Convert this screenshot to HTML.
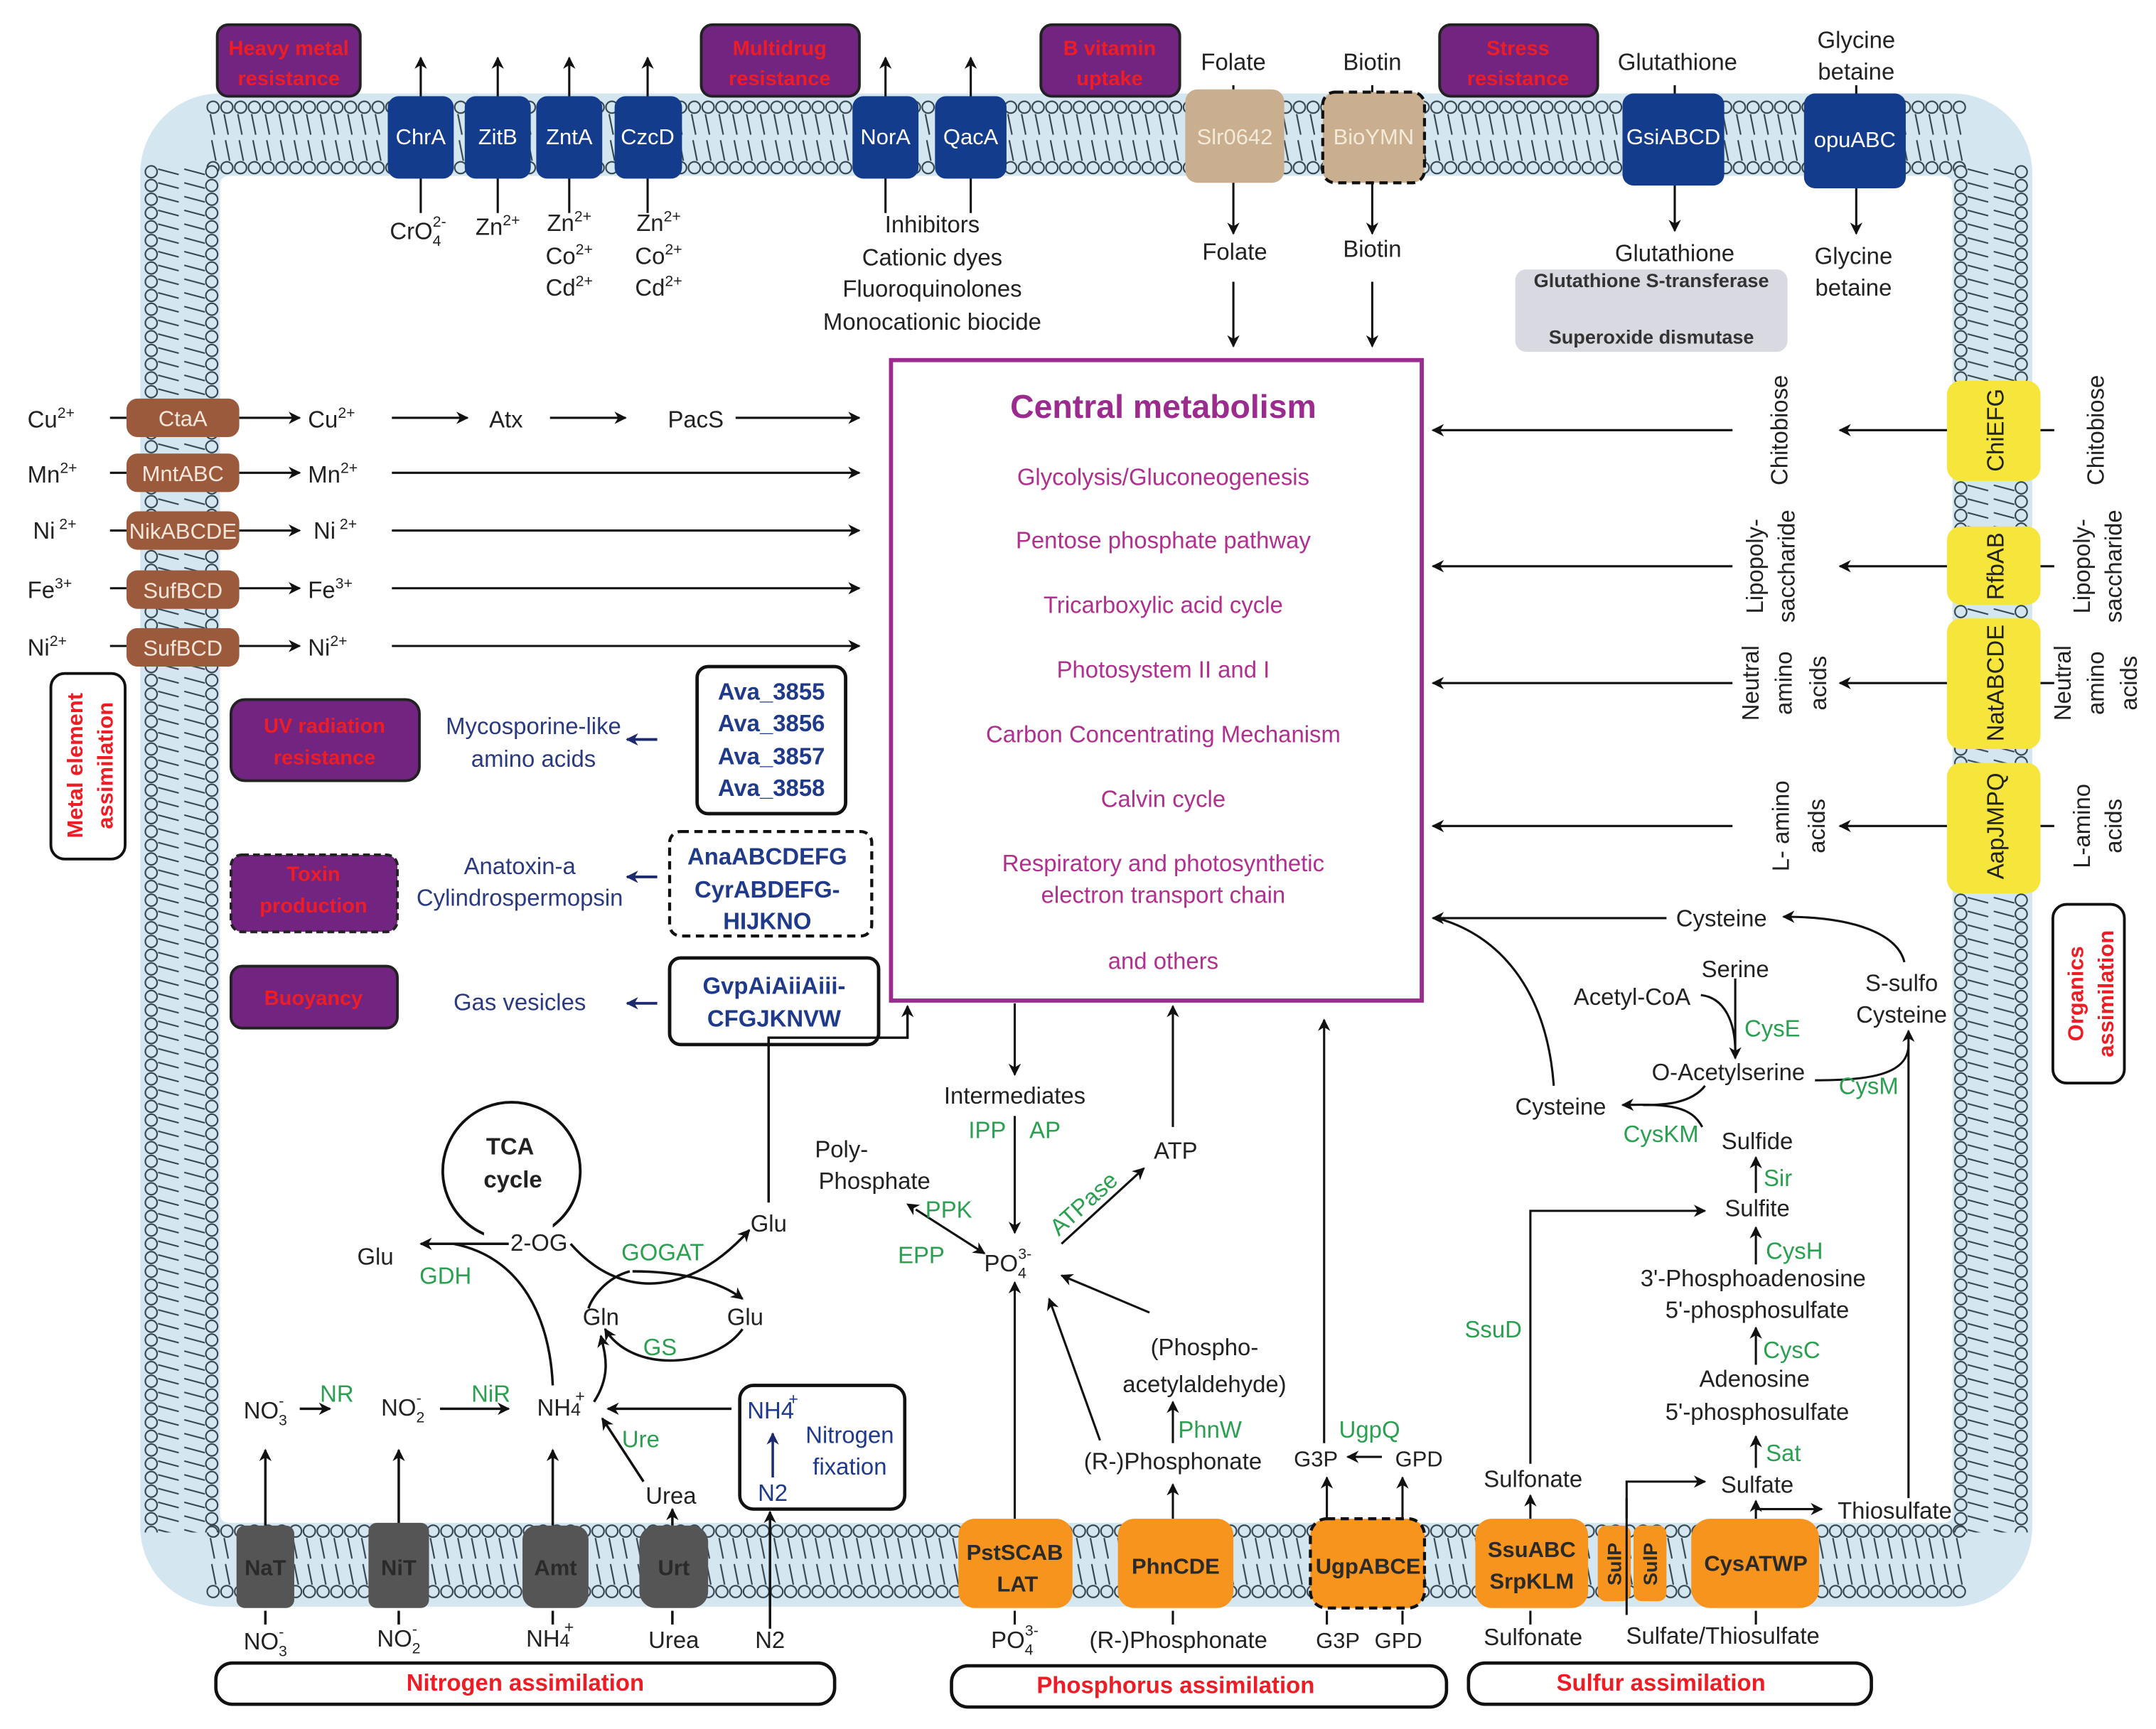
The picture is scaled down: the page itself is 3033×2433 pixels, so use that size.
<!DOCTYPE html>
<html><head><meta charset="utf-8"><style>
html,body{margin:0;padding:0;background:#fff;}
svg{display:block;}
text{font-family:"Liberation Sans",Arial,sans-serif;}
</style></head><body>
<svg width="3033" height="2433" viewBox="0 0 1568 1258" preserveAspectRatio="none" xmlns="http://www.w3.org/2000/svg">
<defs>
<marker id="a" viewBox="0 0 10 10" refX="9" refY="5" markerWidth="9" markerHeight="9" markerUnits="userSpaceOnUse" orient="auto"><path d="M0,0L10,5L0,10L3,5z" fill="#111"/></marker>
<marker id="as" viewBox="0 0 10 10" refX="1" refY="5" markerWidth="9" markerHeight="9" markerUnits="userSpaceOnUse" orient="auto-start-reverse"><path d="M0,0L10,5L0,10L3,5z" fill="#111"/></marker>
<marker id="ab" viewBox="0 0 10 10" refX="9" refY="5" markerWidth="9" markerHeight="9" markerUnits="userSpaceOnUse" orient="auto"><path d="M0,0L10,5L0,10L3,5z" fill="#1c2a6e"/></marker>
<pattern id="pt" x="0" y="72" width="10" height="56" patternUnits="userSpaceOnUse">
<circle cx="5" cy="6" r="4.3" fill="#d4e6f0" stroke="#34444f" stroke-width="1.1"/>
<circle cx="5" cy="50" r="4.3" fill="#d4e6f0" stroke="#34444f" stroke-width="1.1"/>
<path d="M3,11L6,26M4,30L7,45" stroke="#34444f" stroke-width="1.1"/></pattern>
<pattern id="pb" x="0" y="1108" width="10" height="56" patternUnits="userSpaceOnUse">
<circle cx="5" cy="6" r="4.3" fill="#d4e6f0" stroke="#34444f" stroke-width="1.1"/>
<circle cx="5" cy="50" r="4.3" fill="#d4e6f0" stroke="#34444f" stroke-width="1.1"/>
<path d="M3,11L6,26M4,30L7,45" stroke="#34444f" stroke-width="1.1"/></pattern>
<pattern id="pl" x="104" y="0" width="56" height="10" patternUnits="userSpaceOnUse">
<circle cx="6" cy="5" r="4.3" fill="#d4e6f0" stroke="#34444f" stroke-width="1.1"/>
<circle cx="50" cy="5" r="4.3" fill="#d4e6f0" stroke="#34444f" stroke-width="1.1"/>
<path d="M11,3L26,7M30,3L45,7" stroke="#34444f" stroke-width="1.1"/></pattern>
<pattern id="pr" x="1420" y="0" width="56" height="10" patternUnits="userSpaceOnUse">
<circle cx="6" cy="5" r="4.3" fill="#d4e6f0" stroke="#34444f" stroke-width="1.1"/>
<circle cx="50" cy="5" r="4.3" fill="#d4e6f0" stroke="#34444f" stroke-width="1.1"/>
<path d="M11,3L26,7M30,3L45,7" stroke="#34444f" stroke-width="1.1"/></pattern>
</defs>

<!-- membrane -->
<rect x="102" y="68" width="1376" height="1101" rx="58" fill="#d4e6f0"/>
<rect x="150" y="72" width="1280" height="56" fill="url(#pt)"/>
<rect x="150" y="1108" width="1280" height="56" fill="url(#pb)"/>
<rect x="104" y="120" width="56" height="995" fill="url(#pl)"/>
<rect x="1420" y="120" width="56" height="995" fill="url(#pr)"/>
<rect x="160" y="128" width="1260" height="980" rx="6" fill="#fff"/>

<g font-size="17" fill="#222" text-anchor="middle">
<!-- top purple boxes -->
<g stroke="#222" stroke-width="2" fill="#722580">
<rect x="158" y="18" width="104" height="52" rx="8"/>
<rect x="510" y="18" width="115" height="52" rx="8"/>
<rect x="757" y="18" width="101" height="52" rx="8"/>
<rect x="1047" y="18" width="115" height="52" rx="8"/>
</g>
<g fill="#ee1c24" font-weight="bold" font-size="15">
<text x="210" y="40">Heavy metal</text><text x="210" y="62">resistance</text>
<text x="567" y="40">Multidrug</text><text x="567" y="62">resistance</text>
<text x="807" y="40">B vitamin</text><text x="807" y="62">uptake</text>
<text x="1104" y="40">Stress</text><text x="1104" y="62">resistance</text>
</g>
<!-- top arrows -->
<g stroke="#111" stroke-width="1.6" fill="none">
<path d="M306,155V42" marker-end="url(#a)"/><path d="M362,155V42" marker-end="url(#a)"/>
<path d="M414,155V42" marker-end="url(#a)"/><path d="M471,155V42" marker-end="url(#a)"/>
<path d="M644,155V42" marker-end="url(#a)"/><path d="M706,155V42" marker-end="url(#a)"/>
<path d="M897,62V170" marker-end="url(#a)"/><path d="M897,205V252" marker-end="url(#a)"/>
<path d="M998,62V170" marker-end="url(#a)"/><path d="M998,205V252" marker-end="url(#a)"/>
<path d="M1218,62V168" marker-end="url(#a)"/><path d="M1350,62V170" marker-end="url(#a)"/>
</g>
<!-- blue transporters -->
<g fill="#143c8c">
<rect x="282" y="70" width="48" height="60" rx="8"/><rect x="338" y="70" width="48" height="60" rx="8"/>
<rect x="390" y="70" width="48" height="60" rx="8"/><rect x="447" y="70" width="49" height="60" rx="8"/>
<rect x="620" y="70" width="48" height="60" rx="8"/><rect x="680" y="70" width="52" height="60" rx="8"/>
<rect x="1180" y="68" width="74" height="67" rx="8"/><rect x="1312" y="68" width="74" height="69" rx="8"/>
</g>
<rect x="862" y="65" width="72" height="68" rx="9" fill="#c9ae8f"/>
<rect x="962" y="67" width="74" height="66" rx="9" fill="#c9ae8f" stroke="#111" stroke-width="2.2" stroke-dasharray="6,4"/>
<g fill="#fff" font-size="16">
<text x="306" y="105">ChrA</text><text x="362" y="105">ZitB</text><text x="414" y="105">ZntA</text><text x="471" y="105">CzcD</text>
<text x="644" y="105">NorA</text><text x="706" y="105">QacA</text>
<text x="898" y="105" fill="#f4ead8">Slr0642</text><text x="999" y="105" fill="#f4ead8">BioYMN</text>
<text x="1217" y="105">GsiABCD</text><text x="1349" y="107">opuABC</text>
</g>
<!-- top labels -->
<text x="304" y="174">CrO<tspan font-size="11" dy="5">4</tspan><tspan font-size="11" dx="-6" dy="-14">2-</tspan></text>
<text x="362" y="171">Zn<tspan font-size="11" dy="-7">2+</tspan></text>
<text x="414" y="168">Zn<tspan font-size="11" dy="-7">2+</tspan></text>
<text x="414" y="192">Co<tspan font-size="11" dy="-7">2+</tspan></text>
<text x="414" y="215">Cd<tspan font-size="11" dy="-7">2+</tspan></text>
<text x="479" y="168">Zn<tspan font-size="11" dy="-7">2+</tspan></text>
<text x="479" y="192">Co<tspan font-size="11" dy="-7">2+</tspan></text>
<text x="479" y="215">Cd<tspan font-size="11" dy="-7">2+</tspan></text>
<text x="678" y="169">Inhibitors</text><text x="678" y="193">Cationic dyes</text>
<text x="678" y="216">Fluoroquinolones</text><text x="678" y="240">Monocationic biocide</text>
<text x="897" y="51">Folate</text><text x="898" y="189">Folate</text>
<text x="998" y="51">Biotin</text><text x="998" y="187">Biotin</text>
<text x="1220" y="51">Glutathione</text><text x="1218" y="190">Glutathione</text>
<text x="1350" y="35">Glycine</text><text x="1350" y="58">betaine</text>
<text x="1348" y="192">Glycine</text><text x="1348" y="215">betaine</text>
<rect x="1102" y="196" width="198" height="60" rx="8" fill="#d9d9e2"/>
<text x="1201" y="209" font-size="14" font-weight="bold" fill="#333">Glutathione S-transferase</text>
<text x="1201" y="250" font-size="14" font-weight="bold" fill="#333">Superoxide dismutase</text>

<!-- metal rows -->
<g stroke="#111" stroke-width="1.6" fill="none">
<path d="M80,304H92M174,304H218" marker-end="url(#a)"/>
<path d="M285,304H340" marker-end="url(#a)"/><path d="M400,304H455" marker-end="url(#a)"/><path d="M535,304H625" marker-end="url(#a)"/>
<path d="M174,344H218" marker-end="url(#a)"/><path d="M285,344H625" marker-end="url(#a)"/>
<path d="M174,386H218" marker-end="url(#a)"/><path d="M285,386H625" marker-end="url(#a)"/>
<path d="M174,428H218" marker-end="url(#a)"/><path d="M285,428H625" marker-end="url(#a)"/>
<path d="M174,470H218" marker-end="url(#a)"/><path d="M285,470H625" marker-end="url(#a)"/>
<path d="M80,344H92M80,386H92M80,428H92M80,470H92"/>
</g>
<g fill="#9c5a3c">
<rect x="92" y="290" width="82" height="28" rx="8"/><rect x="92" y="330" width="82" height="28" rx="8"/>
<rect x="92" y="372" width="82" height="28" rx="8"/><rect x="92" y="415" width="82" height="28" rx="8"/>
<rect x="92" y="457" width="82" height="28" rx="8"/>
</g>
<g fill="#f4e6da" font-size="16">
<text x="133" y="310">CtaA</text><text x="133" y="350">MntABC</text><text x="133" y="392">NikABCDE</text>
<text x="133" y="435">SufBCD</text><text x="133" y="477">SufBCD</text>
</g>
<g text-anchor="start">
<text x="20" y="311">Cu<tspan font-size="11" dy="-7">2+</tspan></text>
<text x="20" y="351">Mn<tspan font-size="11" dy="-7">2+</tspan></text>
<text x="24" y="392">Ni<tspan font-size="11" dx="3" dy="-7">2+</tspan></text>
<text x="20" y="435">Fe<tspan font-size="11" dy="-7">3+</tspan></text>
<text x="20" y="477">Ni<tspan font-size="11" dy="-7">2+</tspan></text>
<text x="224" y="311">Cu<tspan font-size="11" dy="-7">2+</tspan></text>
<text x="224" y="351">Mn<tspan font-size="11" dy="-7">2+</tspan></text>
<text x="228" y="392">Ni<tspan font-size="11" dx="3" dy="-7">2+</tspan></text>
<text x="224" y="435">Fe<tspan font-size="11" dy="-7">3+</tspan></text>
<text x="224" y="477">Ni<tspan font-size="11" dy="-7">2+</tspan></text>
</g>
<text x="368" y="311">Atx</text><text x="506" y="311">PacS</text>

<rect x="37" y="490" width="54" height="135" rx="10" fill="#fff" stroke="#111" stroke-width="2"/>
<g fill="#ee1c24" font-weight="bold" font-size="16">
<text transform="translate(60,557) rotate(-90)">Metal element</text>
<text transform="translate(82,557) rotate(-90)">assimilation</text>
</g>

<!-- left secondary metabolites -->
<g fill="#722580" stroke="#222" stroke-width="2">
<rect x="168" y="509" width="137" height="59" rx="10"/>
<rect x="168" y="622" width="121" height="56" rx="8" stroke-dasharray="5,3"/>
<rect x="168" y="703" width="121" height="45" rx="8"/>
</g>
<g fill="#ee1c24" font-weight="bold" font-size="15">
<text x="236" y="533">UV radiation</text><text x="236" y="556">resistance</text>
<text x="228" y="641">Toxin</text><text x="228" y="664">production</text>
<text x="228" y="731">Buoyancy</text>
</g>
<g fill="#2a3a80">
<text x="388" y="534">Mycosporine-like</text><text x="388" y="558">amino acids</text>
<text x="378" y="636">Anatoxin-a</text><text x="378" y="659">Cylindrospermopsin</text>
<text x="378" y="735">Gas vesicles</text>
</g>
<g stroke="#1c2a6e" stroke-width="2" fill="none">
<path d="M478,538H456" marker-end="url(#ab)"/><path d="M478,638H456" marker-end="url(#ab)"/><path d="M478,730H456" marker-end="url(#ab)"/>
</g>
<rect x="507" y="485" width="108" height="107" rx="8" fill="#fff" stroke="#111" stroke-width="2.5"/>
<rect x="487" y="605" width="147" height="76" rx="8" fill="#fff" stroke="#111" stroke-width="2.2" stroke-dasharray="6,4"/>
<rect x="487" y="697" width="152" height="63" rx="8" fill="#fff" stroke="#111" stroke-width="2.5"/>
<g fill="#1f3a8a" font-weight="bold">
<text x="561" y="509">Ava_3855</text><text x="561" y="532">Ava_3856</text><text x="561" y="556">Ava_3857</text><text x="561" y="579">Ava_3858</text>
<text x="558" y="629">AnaABCDEFG</text><text x="558" y="653">CyrABDEFG-</text><text x="558" y="676">HIJKNO</text>
<text x="563" y="723">GvpAiAiiAiii-</text><text x="563" y="747">CFGJKNVW</text>
</g>

<!-- central metabolism -->
<rect x="648" y="262" width="386" height="466" fill="#fff" stroke="#9b2b8f" stroke-width="3"/>
<text x="846" y="304" font-size="24" font-weight="bold" fill="#9b2b8f">Central metabolism</text>
<g fill="#b0308f">
<text x="846" y="353">Glycolysis/Gluconeogenesis</text>
<text x="846" y="399">Pentose phosphate pathway</text>
<text x="846" y="446">Tricarboxylic acid cycle</text>
<text x="846" y="493">Photosystem II and I</text>
<text x="846" y="540">Carbon Concentrating Mechanism</text>
<text x="846" y="587">Calvin cycle</text>
<text x="846" y="634">Respiratory and photosynthetic</text>
<text x="846" y="657">electron transport chain</text>
<text x="846" y="705">and others</text>
</g>

<!-- right organics -->
<g stroke="#111" stroke-width="1.6" fill="none">
<path d="M1260,313H1042" marker-end="url(#a)"/><path d="M1260,412H1042" marker-end="url(#a)"/>
<path d="M1260,497H1042" marker-end="url(#a)"/><path d="M1260,601H1042" marker-end="url(#a)"/>
<path d="M1416,313H1338" marker-end="url(#a)"/><path d="M1416,412H1338" marker-end="url(#a)"/>
<path d="M1416,497H1338" marker-end="url(#a)"/><path d="M1416,601H1338" marker-end="url(#a)"/>
<path d="M1484,313H1494M1484,412H1494M1484,497H1494M1484,601H1494"/>
</g>
<g fill="#f6e63c">
<rect x="1416" y="277" width="68" height="73" rx="10"/><rect x="1416" y="383" width="68" height="57" rx="10"/>
<rect x="1416" y="450" width="68" height="95" rx="10"/><rect x="1416" y="555" width="68" height="95" rx="10"/>
</g>
<g font-size="17">
<text transform="translate(1457,313) rotate(-90)">ChiEFG</text>
<text transform="translate(1457,412) rotate(-90)">RfbAB</text>
<text transform="translate(1457,497) rotate(-90)">NatABCDE</text>
<text transform="translate(1457,601) rotate(-90)">AapJMPQ</text>
<text transform="translate(1300,313) rotate(-90)">Chitobiose</text>
<text transform="translate(1282,412) rotate(-90)">Lipopoly-</text>
<text transform="translate(1305,412) rotate(-90)">saccharide</text>
<text transform="translate(1279,497) rotate(-90)">Neutral</text>
<text transform="translate(1303,497) rotate(-90)">amino</text>
<text transform="translate(1328,497) rotate(-90)">acids</text>
<text transform="translate(1301,601) rotate(-90)">L- amino</text>
<text transform="translate(1327,601) rotate(-90)">acids</text>
<text transform="translate(1530,313) rotate(-90)">Chitobiose</text>
<text transform="translate(1520,412) rotate(-90)">Lipopoly-</text>
<text transform="translate(1543,412) rotate(-90)">saccharide</text>
<text transform="translate(1506,497) rotate(-90)">Neutral</text>
<text transform="translate(1530,497) rotate(-90)">amino</text>
<text transform="translate(1554,497) rotate(-90)">acids</text>
<text transform="translate(1520,601) rotate(-90)">L-amino</text>
<text transform="translate(1543,601) rotate(-90)">acids</text>
</g>
<rect x="1493" y="658" width="52" height="130" rx="10" fill="#fff" stroke="#111" stroke-width="2"/>
<g fill="#ee1c24" font-weight="bold" font-size="16">
<text transform="translate(1515,723) rotate(-90)">Organics</text>
<text transform="translate(1537,723) rotate(-90)">assimilation</text>
</g>

<!-- phosphorus / middle pathway -->
<g stroke="#111" stroke-width="1.6" fill="none">
<path d="M738,730V782" marker-end="url(#a)"/>
<path d="M738,812V897" marker-end="url(#a)"/>
<path d="M853,820V732" marker-end="url(#a)"/>
<path d="M666,880L716,912" marker-start="url(#as)" marker-end="url(#a)"/>
<path d="M772,905L832,850" marker-end="url(#a)"/>
<path d="M836,955L772,928" marker-end="url(#a)"/>
<path d="M800,1048L763,945" marker-end="url(#a)"/>
<path d="M738,1105V933" marker-end="url(#a)"/>
<path d="M853,1050V1020" marker-end="url(#a)"/>
<path d="M853,1105V1080" marker-end="url(#a)"/>
<path d="M963,1050V742" marker-end="url(#a)"/>
<path d="M1005,1060H980" marker-end="url(#a)"/>
<path d="M965,1105V1075" marker-end="url(#a)"/>
<path d="M1020,1105V1075" marker-end="url(#a)"/>
<path d="M738,1172V1182M853,1172V1182M965,1172V1182M1020,1172V1182M1113,1172V1182M1277,1172V1182"/>
</g>
<text x="738" y="803">Intermediates</text>
<g fill="#2aa050">
<text x="718" y="828">IPP</text><text x="760" y="828">AP</text>
<text x="690" y="886">PPK</text><text x="670" y="919">EPP</text>
<text transform="translate(792,880) rotate(-42)">ATPase</text>
<text x="880" y="1046">PhnW</text><text x="996" y="1046">UgpQ</text>
</g>
<text x="855" y="843">ATP</text>
<text x="612" y="842">Poly-</text><text x="636" y="865">Phosphate</text>
<text x="733" y="925">PO<tspan font-size="11" dy="5">4</tspan><tspan font-size="11" dx="-6" dy="-14">3-</tspan></text>
<text x="876" y="986">(Phospho-</text><text x="876" y="1013">acetylaldehyde)</text>
<text x="853" y="1069">(R-)Phosphonate</text>
<text x="957" y="1067" font-size="16">G3P</text><text x="1032" y="1067" font-size="16">GPD</text>

<!-- sulfur -->
<g stroke="#111" stroke-width="1.6" fill="none">
<path d="M1113,1105V1088" marker-end="url(#a)"/>
<path d="M1113,1065V881H1240" marker-end="url(#a)"/>
<path d="M1183,1105V1078H1240" marker-end="url(#a)"/>
<path d="M1277,1105V1092" marker-end="url(#a)"/>
<path d="M1277,1098H1325" marker-end="url(#a)"/>
<path d="M1388,1090V750" marker-end="url(#a)"/>
<path d="M1277,1068V1045" marker-end="url(#a)"/>
<path d="M1277,993V966" marker-end="url(#a)"/>
<path d="M1277,920V893" marker-end="url(#a)"/>
<path d="M1277,868V842" marker-end="url(#a)"/>
<path d="M1262,712V770" marker-end="url(#a)"/>
<path d="M1237,724C1255,726 1262,745 1262,765"/>
<path d="M1238,820C1230,805 1215,803 1180,804" marker-end="url(#a)"/>
<path d="M1240,790C1230,803 1210,804 1195,804"/>
<path d="M1320,786C1360,786 1388,782 1388,760"/>
<path d="M1212,668H1042" marker-end="url(#a)"/>
<path d="M1130,790C1125,720 1090,680 1045,668"/>
<path d="M1385,700C1380,680 1350,667 1297,667" marker-end="url(#a)"/>
</g>
<text x="1252" y="674">Cysteine</text>
<text x="1262" y="711">Serine</text>
<text x="1187" y="731">Acetyl-CoA</text>
<text x="1257" y="786">O-Acetylserine</text>
<text x="1135" y="811">Cysteine</text>
<text x="1383" y="721">S-sulfo</text><text x="1383" y="744">Cysteine</text>
<text x="1278" y="836">Sulfide</text>
<text x="1278" y="885">Sulfite</text>
<text x="1275" y="936">3'-Phosphoadenosine</text><text x="1278" y="959">5'-phosphosulfate</text>
<text x="1276" y="1009">Adenosine</text><text x="1278" y="1033">5'-phosphosulfate</text>
<text x="1278" y="1086">Sulfate</text>
<text x="1378" y="1105">Thiosulfate</text>
<text x="1115" y="1082">Sulfonate</text>
<g fill="#2aa050">
<text x="1289" y="754">CysE</text><text x="1359" y="796">CysM</text><text x="1208" y="831">CysKM</text>
<text x="1293" y="863">Sir</text><text x="1305" y="916">CysH</text><text x="1303" y="988">CysC</text>
<text x="1297" y="1063">Sat</text><text x="1086" y="973">SsuD</text>
</g>

<!-- nitrogen -->
<circle cx="372" cy="852" r="50" fill="#fff" stroke="#111" stroke-width="2"/>
<rect x="352" y="890" width="50" height="22" fill="#fff"/>
<text x="371" y="840" font-weight="bold">TCA</text><text x="373" y="864" font-weight="bold">cycle</text>
<g stroke="#111" stroke-width="1.8" fill="none">
<path d="M370,905H306" marker-end="url(#a)"/>
<path d="M415,905C450,945 500,945 545,895" marker-end="url(#a)"/>
<path d="M460,925C490,925 520,930 540,945" marker-end="url(#a)"/>
<path d="M540,967C520,995 460,1000 440,967" marker-end="url(#a)"/>
<path d="M458,925C440,930 430,945 428,952"/>
<path d="M432,1020C445,1000 440,985 437,972" marker-end="url(#a)"/>
<path d="M402,1008C400,960 380,915 330,905"/>
<path d="M218,1025H240" marker-end="url(#a)"/><path d="M320,1025H370" marker-end="url(#a)"/>
<path d="M532,1025H442" marker-end="url(#a)"/>
<path d="M468,1078L438,1032" marker-end="url(#a)"/>
<path d="M193,1110V1055" marker-end="url(#a)"/><path d="M290,1110V1055" marker-end="url(#a)"/>
<path d="M402,1110V1055" marker-end="url(#a)"/><path d="M489,1110V1098" marker-end="url(#a)"/>
<path d="M560,1185V1100" marker-end="url(#a)"/>
<path d="M559,875V755H660V732" marker-end="url(#a)"/>
<path d="M193,1172V1182M290,1172V1182M402,1172V1182M489,1172V1182"/>
</g>
<text x="392" y="910">2-OG</text>
<text x="273" y="920">Glu</text><text x="559" y="896">Glu</text>
<text x="437" y="964">Gln</text><text x="542" y="964">Glu</text>
<g fill="#2aa050">
<text x="324" y="934">GDH</text><text x="482" y="917">GOGAT</text><text x="480" y="986">GS</text>
<text x="245" y="1020">NR</text><text x="357" y="1020">NiR</text><text x="466" y="1053">Ure</text>
</g>
<text x="193" y="1032">NO<tspan font-size="11" dy="5">3</tspan><tspan font-size="11" dx="-6" dy="-14">-</tspan></text>
<text x="293" y="1030">NO<tspan font-size="11" dy="5">2</tspan><tspan font-size="11" dx="-6" dy="-14">-</tspan></text>
<text x="408" y="1030">NH<tspan font-size="13">4</tspan><tspan font-size="12" dx="-4" dy="-10">+</tspan></text>
<text x="488" y="1094">Urea</text>
<rect x="538" y="1008" width="120" height="90" rx="10" fill="#fff" stroke="#111" stroke-width="2.4"/>
<g fill="#1f3a8a">
<text x="562" y="1032">NH4<tspan font-size="12" dx="-4" dy="-10">+</tspan></text>
<text x="562" y="1092">N2</text>
<text x="618" y="1050">Nitrogen</text><text x="618" y="1073">fixation</text>
</g>
<path d="M562,1075V1043" stroke="#1c2a6e" stroke-width="1.8" marker-end="url(#ab)"/>

<!-- bottom transporters -->
<g fill="#555">
<rect x="172" y="1110" width="42" height="60" rx="6"/><rect x="268" y="1108" width="44" height="62" rx="6"/>
<rect x="380" y="1110" width="48" height="60" rx="10"/><rect x="465" y="1110" width="50" height="60" rx="12"/>
</g>
<g fill="#2a2a2a" font-weight="bold" font-size="16">
<text x="193" y="1146">NaT</text><text x="290" y="1146">NiT</text><text x="404" y="1146">Amt</text><text x="490" y="1146">Urt</text>
</g>
<g fill="#f7941d">
<rect x="697" y="1105" width="83" height="65" rx="12"/><rect x="813" y="1105" width="84" height="65" rx="12"/>
<rect x="1073" y="1105" width="82" height="65" rx="12"/><rect x="1162" y="1110" width="24" height="55" rx="6"/>
<rect x="1188" y="1110" width="24" height="55" rx="6"/><rect x="1230" y="1105" width="93" height="65" rx="14"/>
</g>
<rect x="953" y="1105" width="83" height="65" rx="12" fill="#f7941d" stroke="#111" stroke-width="2.2" stroke-dasharray="6,4"/>
<g fill="#2a2a2a" font-weight="bold" font-size="16">
<text x="738" y="1135">PstSCAB</text><text x="740" y="1158">LAT</text>
<text x="855" y="1145">PhnCDE</text><text x="995" y="1145">UgpABCE</text>
<text x="1114" y="1133">SsuABC</text><text x="1114" y="1156">SrpKLM</text>
<text x="1277" y="1143">CysATWP</text>
<text transform="translate(1179,1138) rotate(-90)" font-size="14">SulP</text>
<text transform="translate(1205,1138) rotate(-90)" font-size="14">SulP</text>
</g>
<path d="M1183,1175V1090" stroke="#111" stroke-width="1.6"/>

<!-- bottom labels -->
<text x="193" y="1200">NO<tspan font-size="11" dy="5">3</tspan><tspan font-size="11" dx="-6" dy="-14">-</tspan></text>
<text x="290" y="1198">NO<tspan font-size="11" dy="5">2</tspan><tspan font-size="11" dx="-6" dy="-14">-</tspan></text>
<text x="400" y="1198">NH<tspan font-size="13">4</tspan><tspan font-size="12" dx="-4" dy="-10">+</tspan></text>
<text x="490" y="1199">Urea</text><text x="560" y="1199">N2</text>
<text x="738" y="1199">PO<tspan font-size="11" dy="5">4</tspan><tspan font-size="11" dx="-6" dy="-14">3-</tspan></text>
<text x="857" y="1199">(R-)Phosphonate</text>
<text x="973" y="1199" font-size="16">G3P</text><text x="1017" y="1199" font-size="16">GPD</text>
<text x="1115" y="1197">Sulfonate</text><text x="1253" y="1196">Sulfate/Thiosulfate</text>
<g fill="#fff" stroke="#111" stroke-width="2.4">
<rect x="157" y="1210" width="450" height="30" rx="12"/>
<rect x="692" y="1212" width="360" height="30" rx="12"/>
<rect x="1068" y="1210" width="293" height="30" rx="12"/>
</g>
<g fill="#ee1c24" font-weight="bold">
<text x="382" y="1230">Nitrogen assimilation</text>
<text x="855" y="1232">Phosphorus assimilation</text>
<text x="1208" y="1230">Sulfur assimilation</text>
</g>
</g>
</svg>
</body></html>
